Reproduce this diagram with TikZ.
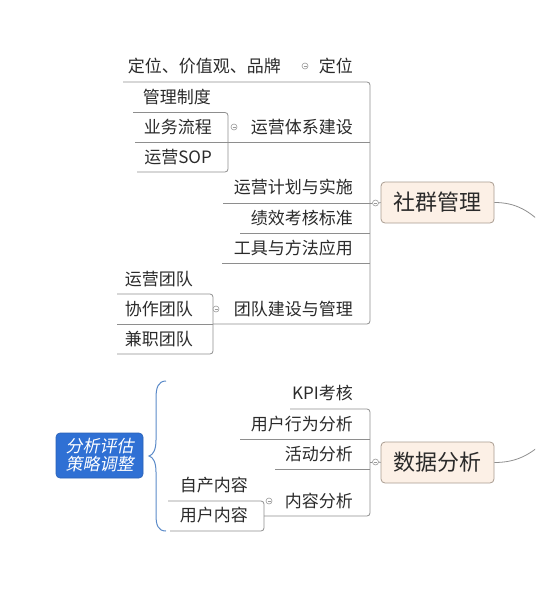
\documentclass[tikz,border=0pt]{standalone}
\usepackage{fontspec}
\setmainfont{Noto Sans CJK SC}
\newfontfamily\cjkslant[FakeSlant=0.2]{Noto Sans CJK SC}
\definecolor{ln}{HTML}{8E8E8E}
\definecolor{hubc}{HTML}{9A9A9A}
\definecolor{txt}{HTML}{2A2A2A}
\definecolor{bxfill}{HTML}{FCF0E6}
\definecolor{bxdraw}{HTML}{A89C90}
\definecolor{bluefill}{HTML}{2F70D4}
\definecolor{bluedraw}{HTML}{2A60B4}
\definecolor{bracec}{HTML}{5A8AC8}
\tikzset{
  lbl/.style={anchor=east, inner sep=0pt, text height=15pt, text depth=2pt,
    font=\fontsize{17}{20}\selectfont, text=txt},
  conn/.style={draw=ln, line width=0.8pt, rounded corners=3pt},
  hub/.style={circle, draw=hubc, fill=white, minimum size=6pt, inner sep=0pt, line width=0.6pt,
    path picture={\draw[hubc, line width=0.5pt]
      ([xshift=-1.5pt]path picture bounding box.center) -- ([xshift=1.5pt]path picture bounding box.center);}},
  mainbox/.style={draw=bxdraw, fill=bxfill, rounded corners=4pt, line width=0.8pt,
    font=\fontsize{22}{26}\selectfont, text=txt, minimum width=113pt, minimum height=41pt, inner sep=0pt},
  bluebox/.style={draw=bluedraw, fill=bluefill, rounded corners=4pt, line width=0.6pt,
    font=\cjkslant\fontsize{17}{18}\selectfont, text=white, align=center,
    minimum width=87pt, minimum height=45pt, inner sep=0pt},
}
\begin{document}
\begin{tikzpicture}[x=1pt,y=-1pt]
\useasboundingbox (0,0) rectangle (535,615);
\clip (0,0) rectangle (535,615);

% ---------- 社群管理 ----------
\node[mainbox] (sq) at (437.5,202.5) {社群管理};
\node[lbl] (dw)  at (353,66) {定位};
\node[lbl] (dwc) at (281,66) {定位、价值观、品牌};
\node[lbl] (yy)  at (353,127) {运营体系建设};
\node[lbl] (gl)  at (211,97) {管理制度};
\node[lbl] (yw)  at (212,127) {业务流程};
\node[lbl] (sop) at (212,157) {运营SOP};
\node[lbl] (jh)  at (353,187) {运营计划与实施};
\node[lbl] (jx)  at (353,218) {绩效考核标准};
\node[lbl] (gj)  at (353,248) {工具与方法应用};
\node[lbl] (td)  at (353,309) {团队建设与管理};
\node[lbl] (t1)  at (193,279) {运营团队};
\node[lbl] (t2)  at (193,309) {协作团队};
\node[lbl] (t3)  at (193,339) {兼职团队};

% spines
\coordinate (sqTop) at (370,82);
\coordinate (sqBot) at (370,324);
\draw[conn] (123,82) -- (sqTop) -- (sqBot) -- (213,324);
\draw[conn] (228,142.5) -- (370,142.5);
\draw[conn] (240,233) -- (370,233);
\draw[conn] (222,263) -- (370,263);
\draw[conn] (133,112.5) -- (228,112.5) -- (228,172) -- (137,172);
\draw[conn] (135,142.5) -- (228,142.5);
\draw[conn] (117,294) -- (213,294) -- (213,354) -- (117,354);
\draw[conn] (117,324) -- (213,324);

\node[hub] (h1) at (305,66) {};
\node[hub] (h2) at (234,127) {};
\node[hub] (h3) at (216,309) {};
\node[hub] (h4) at (375.5,203) {};
\draw[conn] (223,203) -- (h4.west);
\draw[conn] (h4.east) -- (sq.west);

% ---------- 数据分析 ----------
\node[mainbox] (sj) at (437.5,462.5) {数据分析};
\node[lbl] (kpi) at (353,393) {KPI考核};
\node[lbl] (yh)  at (353,424) {用户行为分析};
\node[lbl] (hd)  at (353,454) {活动分析};
\node[lbl] (nr)  at (353,501) {内容分析};
\node[lbl] (zc)  at (248,485) {自产内容};
\node[lbl] (yhn) at (248,515) {用户内容};

\draw[conn] (290,409) -- (370,409) -- (370,516) -- (264,516);
\draw[conn] (240,439) -- (370,439);
\draw[conn] (275,469) -- (370,469);
\draw[conn] (168,501) -- (264,501) -- (264,531) -- (170,531);

\node[hub] (h5) at (375.5,462) {};
\node[hub] (h6) at (269,501) {};
\draw[conn] (370,462) -- (h5.west);
\draw[conn] (h5.east) -- (sj.west);

% ---------- summary ----------
\node[bluebox] (fx) at (99.5,455.5) {分析评估\\策略调整};
\draw[bracec, line width=1pt]
  (166,381) .. controls (158,381) and (156,388) .. (156,398)
  -- (156,440) .. controls (156,450) and (153,455) .. (149,456)
  .. controls (153,457) and (156,462) .. (156,472)
  -- (156,515) .. controls (156,525) and (158,531) .. (166,531);

% ---------- to central topic ----------
\draw[ln, line width=0.8pt] (sq.east) .. controls (515,202.5) and (530,210) .. (548,230);
\draw[ln, line width=0.8pt] (sj.east) .. controls (515,462.5) and (530,456) .. (548,438);
\end{tikzpicture}
\end{document}
